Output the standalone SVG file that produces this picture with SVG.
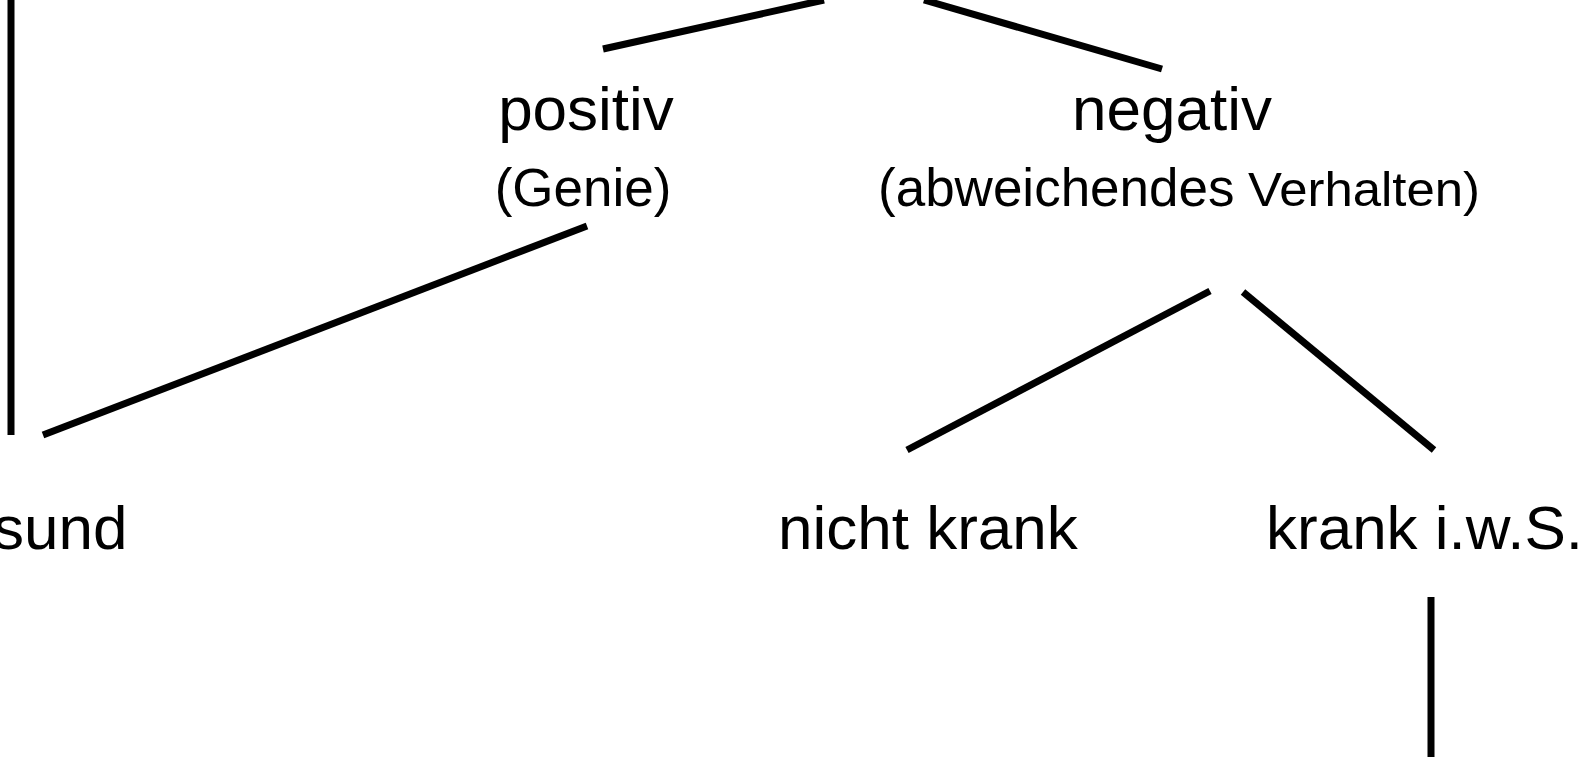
<svg xmlns="http://www.w3.org/2000/svg" width="1595" height="757" viewBox="0 0 1595 757">
<style>
.t{font-family:"Liberation Sans",Arial,sans-serif;fill:#000}
.big{font-size:62px}
.sm{font-size:53px}
.c line{stroke:#000;stroke-width:7;fill:none}
</style>
<rect width="1595" height="757" fill="#fff"/>
<g class="c" id="connectors">
<line x1="11" y1="0" x2="11" y2="435"/>
<line x1="603" y1="49" x2="824" y2="0"/>
<line x1="924" y1="0" x2="1162" y2="69"/>
<line x1="587" y1="226" x2="43" y2="435"/>
<line x1="1210" y1="291" x2="907" y2="450"/>
<line x1="1243" y1="292" x2="1434" y2="450"/>
<line x1="1431" y1="597" x2="1431" y2="757"/>
</g>
<g id="positiv">
<text class="t big" x="586" y="130" text-anchor="middle">positiv</text>
<text class="t sm" x="583" y="206" text-anchor="middle">(Genie)</text>
</g>
<g id="negativ">
<text class="t big" x="1172" y="130" text-anchor="middle">negativ</text>
<text class="t sm" x="878" y="206">(abweichendes</text>
<text class="t" x="1248" y="206" font-size="49" textLength="232" lengthAdjust="spacingAndGlyphs">Verhalten)</text>
</g>
<g id="gesund">
<text class="t big" x="-7" y="549">sund</text>
</g>
<g id="nichtkrank">
<text class="t big" x="778" y="549">nicht krank</text>
</g>
<g id="krank">
<text class="t big" x="1266" y="549">krank i.w.S.</text>
</g>
</svg>
